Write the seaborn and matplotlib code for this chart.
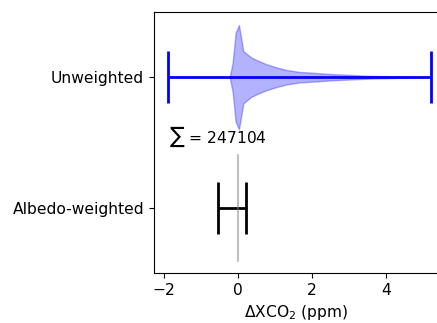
import numpy as np
import matplotlib
matplotlib.use("Agg")
import matplotlib.pyplot as plt
import seaborn as sns

# categories (top to bottom)
categories = ["Unweighted", "Albedo-weighted"]
err_low = [-1.89, -0.54]
err_high = [5.23, 0.23]
err_colors = ["blue", "black"]
n_total = 247104

# violin profile of the unweighted distribution (relative density)
prof_x = [-0.22, -0.14, -0.06, 0.03, 0.08, 0.15, 0.27, 0.36, 0.50, 0.77,
          1.04, 1.31, 1.67, 1.94, 2.48, 3.02, 3.56, 4.10, 4.64, 5.00]
prof_d = [0.0, 0.28, 0.85, 1.0, 0.79, 0.50, 0.43, 0.38, 0.33, 0.25,
          0.19, 0.14, 0.10, 0.09, 0.062, 0.044, 0.027, 0.018, 0.007, 0.0]

sns.set_style("ticks")
plt.rcParams["font.family"] = ["DejaVu Sans"]
plt.rcParams["font.size"] = 11.2
plt.rcParams["text.color"] = "black"

fig = plt.figure(figsize=(4.37, 3.23), dpi=100)
ax = fig.add_axes([0.352, 0.155, 0.652, 0.808])

pos = np.arange(len(categories))
half = 0.4 * np.array(prof_d)
ax.fill_between(prof_x, pos[0] - half, pos[0] + half, facecolor=(0, 0, 1, 0.3),
                edgecolor=(0, 0, 1, 0.3), lw=1)

for i in range(len(categories)):
    mid = (err_low[i] + err_high[i]) / 2
    ax.errorbar(mid, pos[i], xerr=[[mid - err_low[i]], [err_high[i] - mid]],
                color=err_colors[i], lw=2, capsize=19, capthick=2)

ax.plot([0, 0], [0.6, 1.41], color="gray", alpha=0.5, lw=1.5)
ax.text(-1.87, 0.46, r"$\sum$ = " + str(n_total), fontsize=11.2, va="center", ha="left")

ax.set_yticks(pos)
ax.set_yticklabels(categories)
ax.set_ylim(1.5, -0.5)
ax.set_xlim(-2.27, 5.43)
ax.set_xticks([-2, 0, 2, 4])
ax.set_xlabel("ΔXCO$_2$ (ppm)")
for s in ax.spines.values():
    s.set_color("black")
ax.tick_params(colors="black", labelsize=11.2)
ax.xaxis.label.set_color("black")
ax.xaxis.label.set_size(11.2)

fig.savefig("out.png", dpi=100)
